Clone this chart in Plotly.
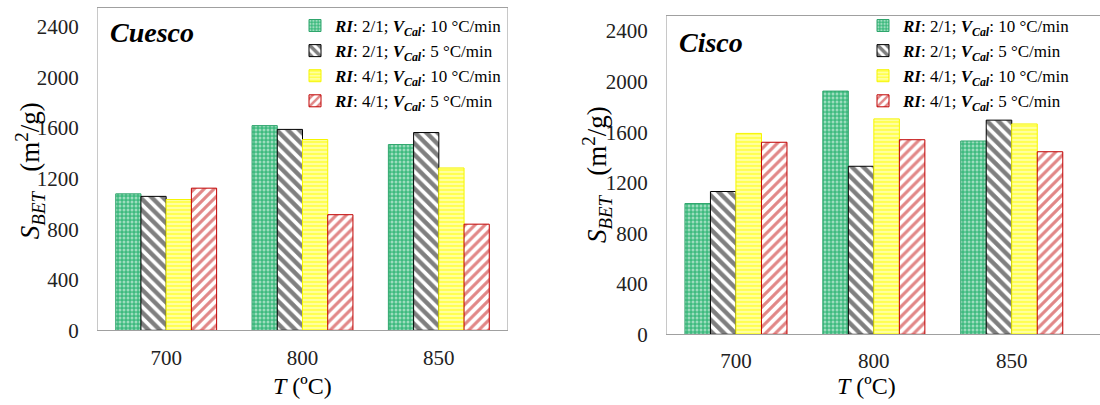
import plotly.graph_objects as go

temps = ["700", "800", "850"]
series_names = [
    "<b><i>RI</i></b>: 2/1; <b><i>V<sub>Cal</sub></i></b>: 10 °C/min",
    "<b><i>RI</i></b>: 2/1; <b><i>V<sub>Cal</sub></i></b>: 5 °C/min",
    "<b><i>RI</i></b>: 4/1; <b><i>V<sub>Cal</sub></i></b>: 10 °C/min",
    "<b><i>RI</i></b>: 4/1; <b><i>V<sub>Cal</sub></i></b>: 5 °C/min",
]
cuesco_21_10 = [1080, 1620, 1470]
cuesco_21_5 = [1060, 1590, 1565]
cuesco_41_10 = [1035, 1510, 1285]
cuesco_41_5 = [1125, 915, 840]
cisco_21_10 = [1035, 1925, 1530]
cisco_21_5 = [1130, 1330, 1695]
cisco_41_10 = [1590, 1705, 1665]
cisco_41_5 = [1520, 1540, 1445]
y_ticks = [0, 400, 800, 1200, 1600, 2000, 2400]

FONT = "Liberation Serif"
styles = [
    dict(color="#3dba7e", line=dict(color="#2fa56c", width=1),
         pattern=dict(shape=".", fgcolor="white", bgcolor="#3dba7e", size=4, solidity=0.45)),
    dict(color="white", line=dict(color="black", width=1),
         pattern=dict(shape="\\", fgcolor="black", bgcolor="white", size=8, solidity=0.55)),
    dict(color="#ffff33", line=dict(color="#f5f500", width=1),
         pattern=dict(shape="-", fgcolor="#ffff00", bgcolor="#ffffa0", size=4, solidity=0.5)),
    dict(color="white", line=dict(color="#c00000", width=1),
         pattern=dict(shape="/", fgcolor="#c41010", bgcolor="white", size=7, solidity=0.45)),
]

fig = go.Figure()
cuesco = [cuesco_21_10, cuesco_21_5, cuesco_41_10, cuesco_41_5]
cisco = [cisco_21_10, cisco_21_5, cisco_41_10, cisco_41_5]
for i, vals in enumerate(cuesco):
    fig.add_trace(go.Bar(x=temps, y=vals, name=series_names[i], marker=styles[i],
                         xaxis="x", yaxis="y", legend="legend"))
for i, vals in enumerate(cisco):
    fig.add_trace(go.Bar(x=temps, y=vals, name=series_names[i], marker=styles[i],
                         xaxis="x2", yaxis="y2", legend="legend2"))

W, H = 1100, 405
HEFF = 395
def px_x(p): return p / W
def px_y(p): return (HEFF - p) / HEFF

axis_common = dict(showgrid=False, zeroline=False, ticks="",
                   tickfont=dict(family=FONT, size=21, color="#222"))
fig.update_layout(
    width=W, height=H, margin=dict(l=0, r=0, t=0, b=0),
    paper_bgcolor="white", plot_bgcolor="white",
    barmode="group", bargap=0.26, bargroupgap=0,
    font=dict(family=FONT, color="black"),
    xaxis=dict(domain=[px_x(98), px_x(507)], anchor="y", type="category",
               range=[-0.5, 2.5], showline=True, linecolor="#a0a0a0", linewidth=1,
               mirror=True, ticklabelstandoff=8, **axis_common),
    yaxis=dict(domain=[px_y(332), px_y(8)], anchor="x", range=[0, 2551],
               tickvals=y_ticks, showline=True, linecolor="#c8c8c8", linewidth=1,
               mirror=True, ticklabelstandoff=14, **axis_common),
    xaxis2=dict(domain=[px_x(667), 1.0], anchor="y2", type="category",
                range=[-0.5, 2.64], showline=True, linecolor="#a0a0a0", linewidth=1,
                mirror=True, ticklabelstandoff=8, **axis_common),
    yaxis2=dict(domain=[px_y(336), px_y(16)], anchor="x2", range=[0, 2520],
                tickvals=y_ticks, showline=True, linecolor="#c8c8c8", linewidth=1,
                mirror=False, ticklabelstandoff=14, **axis_common),
    legend=dict(x=px_x(295), y=px_y(8), xanchor="left", yanchor="top",
                bgcolor="rgba(0,0,0,0)", font=dict(family=FONT, size=17, color="black"),
                tracegroupgap=0),
    legend2=dict(x=px_x(863), y=px_y(8), xanchor="left", yanchor="top",
                 bgcolor="rgba(0,0,0,0)", font=dict(family=FONT, size=17, color="black"),
                 tracegroupgap=0),
    annotations=[
        dict(text="<b><i>Cuesco</i></b>", x=px_x(108), y=px_y(33), xref="paper", yref="paper",
             xanchor="left", yanchor="middle", showarrow=False, font=dict(family=FONT, size=28)),
        dict(text="<b><i>Cisco</i></b>", x=px_x(677), y=px_y(43), xref="paper", yref="paper",
             xanchor="left", yanchor="middle", showarrow=False, font=dict(family=FONT, size=28)),
        dict(text="<i>S<sub>BET</sub></i>&nbsp;&nbsp;&nbsp;(m<sup>2</sup>/g)", x=px_x(30), y=px_y(172),
             xref="paper", yref="paper", textangle=-90, showarrow=False,
             xanchor="center", yanchor="middle", font=dict(family=FONT, size=27)),
        dict(text="<i>S<sub>BET</sub></i>&nbsp;&nbsp;&nbsp;(m<sup>2</sup>/g)", x=px_x(597), y=px_y(176),
             xref="paper", yref="paper", textangle=-90, showarrow=False,
             xanchor="center", yanchor="middle", font=dict(family=FONT, size=27)),
        dict(text="<i>T</i> (ºC)", x=px_x(302), y=px_y(388), xref="paper", yref="paper",
             showarrow=False, xanchor="center", yanchor="middle", font=dict(family=FONT, size=24)),
        dict(text="<i>T</i> (ºC)", x=px_x(866), y=px_y(388), xref="paper", yref="paper",
             showarrow=False, xanchor="center", yanchor="middle", font=dict(family=FONT, size=24)),
    ],
)

fig.write_html("out.html")
